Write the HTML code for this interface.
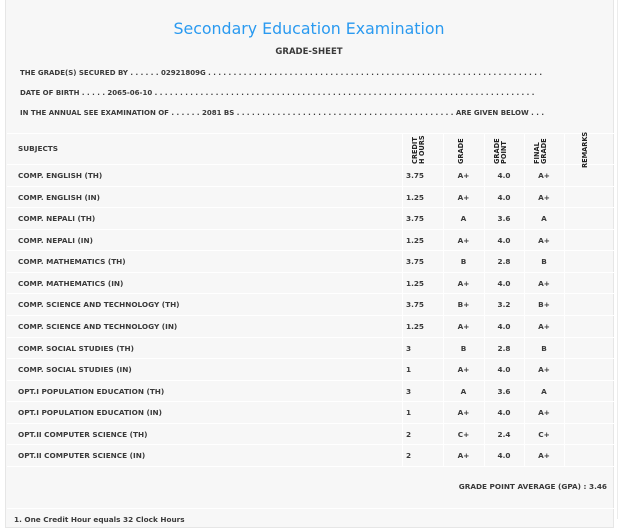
<!DOCTYPE html>
<html><head><style>
*{margin:0;padding:0;box-sizing:border-box}
body{width:623px;height:519px;background:#fff;position:relative;overflow:hidden;font-family:"DejaVu Sans","Liberation Sans",sans-serif;color:#333}
#box{position:absolute;left:5px;top:-2px;width:609px;height:530px;background:#f7f7f7;border:1px solid #e6e6e6}
#rline{position:absolute;left:617px;top:0;width:1px;height:519px;background:#ececec}
.t{position:absolute;white-space:nowrap;font-weight:bold;font-size:7.3px;line-height:10px;color:#3a3a3a}
.title{position:absolute;left:0;width:618px;text-align:center;top:19px;font-size:15.8px;color:#2a9af0;font-weight:normal;font-family:"DejaVu Sans",sans-serif}
.h{position:absolute;background:#fff;height:1px;left:7px;width:607px}
.v{position:absolute;background:#fff;width:1px}
.rot{position:absolute;transform:rotate(-90deg);transform-origin:left top;font-weight:bold;font-size:6.6px;line-height:7px;white-space:nowrap;color:#222}
</style></head><body>
<div id="box"></div><div id="rline"></div>
<div class="title">Secondary Education Examination</div>
<div class="t" style="left:0;width:618px;text-align:center;top:47px;font-size:8.5px">GRADE-SHEET</div>
<div class="t" style="left:20px;top:68px;font-size:7px">THE GRADE(S) SECURED BY . . . . . . 02921809G . . . . . . . . . . . . . . . . . . . . . . . . . . . . . . . . . . . . . . . . . . . . . . . . . . . . . . . . . . . . . . . . . .</div>
<div class="t" style="left:20px;top:88px;font-size:7px">DATE OF BIRTH . . . . . 2065-06-10 . . . . . . . . . . . . . . . . . . . . . . . . . . . . . . . . . . . . . . . . . . . . . . . . . . . . . . . . . . . . . . . . . . . . . . . . . . .</div>
<div class="t" style="left:20px;top:108px;font-size:7px">IN THE ANNUAL SEE EXAMINATION OF . . . . . . 2081 BS . . . . . . . . . . . . . . . . . . . . . . . . . . . . . . . . . . . . . . . . . . . ARE GIVEN BELOW . . .</div>

<div class="h" style="top:133px"></div>
<div class="h" style="top:164px"></div>
<div class="h" style="top:466px"></div>
<div class="h" style="top:508px"></div>
<div class="v" style="left:402px;top:133px;height:333px"></div>
<div class="v" style="left:443px;top:133px;height:333px"></div>
<div class="v" style="left:484px;top:133px;height:333px"></div>
<div class="v" style="left:524px;top:133px;height:333px"></div>
<div class="v" style="left:564px;top:133px;height:333px"></div>

<div class="t" style="left:18px;top:144px">SUBJECTS</div>
<div class="rot" style="left:412px;top:164px">CREDIT<br>H OURS</div>
<div class="rot" style="left:458px;top:164px">GRADE</div>
<div class="rot" style="left:494px;top:164px">GRADE<br>POINT</div>
<div class="rot" style="left:534px;top:164px">FINAL<br>GRADE</div>
<div class="rot" style="left:582px;top:168px">REMARKS</div>

<div id="rows"></div>
<script>
var d=[["COMP. ENGLISH (TH)","3.75","A+","4.0","A+"],["COMP. ENGLISH (IN)","1.25","A+","4.0","A+"],["COMP. NEPALI (TH)","3.75","A","3.6","A"],["COMP. NEPALI (IN)","1.25","A+","4.0","A+"],["COMP. MATHEMATICS (TH)","3.75","B","2.8","B"],["COMP. MATHEMATICS (IN)","1.25","A+","4.0","A+"],["COMP. SCIENCE AND TECHNOLOGY (TH)","3.75","B+","3.2","B+"],["COMP. SCIENCE AND TECHNOLOGY (IN)","1.25","A+","4.0","A+"],["COMP. SOCIAL STUDIES (TH)","3","B","2.8","B"],["COMP. SOCIAL STUDIES (IN)","1","A+","4.0","A+"],["OPT.I POPULATION EDUCATION (TH)","3","A","3.6","A"],["OPT.I POPULATION EDUCATION (IN)","1","A+","4.0","A+"],["OPT.II COMPUTER SCIENCE (TH)","2","C+","2.4","C+"],["OPT.II COMPUTER SCIENCE (IN)","2","A+","4.0","A+"]];
var h="";
for(var i=0;i<d.length;i++){var y=164+i*21.57;var ty=y+7;
if(i>0)h+='<div class="h" style="top:'+Math.round(y)+'px"></div>';
h+='<div class="t" style="left:18px;top:'+ty+'px">'+d[i][0]+'</div>';
h+='<div class="t" style="left:406px;top:'+ty+'px">'+d[i][1]+'</div>';
h+='<div class="t" style="left:443px;width:41px;text-align:center;top:'+ty+'px">'+d[i][2]+'</div>';
h+='<div class="t" style="left:484px;width:40px;text-align:center;top:'+ty+'px">'+d[i][3]+'</div>';
h+='<div class="t" style="left:524px;width:40px;text-align:center;top:'+ty+'px">'+d[i][4]+'</div>';}
document.getElementById("rows").innerHTML=h;
</script>
<div class="t" style="right:16px;top:482px">GRADE POINT AVERAGE (GPA) : 3.46</div>
<div class="t" style="left:14px;top:515px">1. One Credit Hour equals 32 Clock Hours</div>
</body></html>
